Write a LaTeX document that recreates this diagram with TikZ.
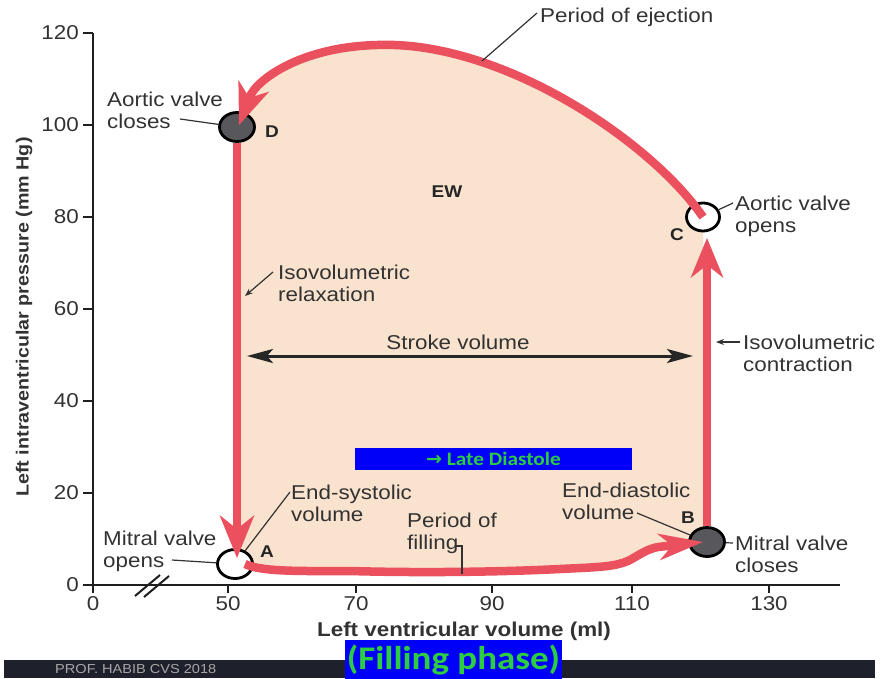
\documentclass[tikz,border=0pt]{standalone}
\usepackage{fontspec}
\setmainfont[FakeStretch=1.12]{Liberation Sans}
\newfontfamily\carfont[FakeStretch=1.12]{Carlito}
\newfontfamily\arrfont{DejaVu Sans}
\usetikzlibrary{arrows.meta}
\usetikzlibrary{shapes.geometric}
\definecolor{lred}{RGB}{234,80,94}
\definecolor{lpeach}{RGB}{249,226,206}
\definecolor{lgray}{RGB}{88,88,92}
\definecolor{ltext}{RGB}{50,50,50}
\definecolor{lblue}{RGB}{0,0,250}
\definecolor{lgreen}{RGB}{45,205,65}
\definecolor{lbar}{RGB}{30,32,44}

\tikzset{
redloop/.style={draw=lred, line width=8.5pt},
valve/.style={ellipse, draw=black, line width=2.8pt, minimum width=35pt, minimum height=29pt, inner sep=0pt},
lbl/.style={font=\fontsize{20}{21.5}\selectfont, text=ltext, align=left, inner sep=0pt, anchor=north west},
letter/.style={font=\fontsize{17}{17}\selectfont\bfseries, text=black!85, inner sep=0pt},
leader/.style={draw=ltext, line width=1.2pt},
axisline/.style={draw=black!88, line width=2.5pt},
ticklbl/.style={font=\fontsize{20}{20}\selectfont, text=ltext, inner sep=0pt},
}

\begin{document}
\begin{tikzpicture}[x=1pt, y=-1pt]
\useasboundingbox (0,0) rectangle (888,678);
\clip (0,0) rectangle (888,678);

%work area:
\fill[lpeach] (703,217) .. controls (650,140) and (500,40) .. (377,45) .. controls (300,47) and (256,80) .. (239,125) -- (237,563) -- (245,564) .. controls (262,572) and (300,571) .. (350,571) .. controls (420,573) and (500,572) .. (560,569) .. controls (600,567) and (615,567) .. (630,560) .. controls (642,553) and (648,549) .. (658,547) -- (703,542) -- (707,542) -- cycle;

%axes:
\coordinate (ytop) at (93,33);
\coordinate (orig) at (93,585);
\coordinate (xend) at (840,585);
\draw[axisline] (ytop) -- (orig) -- (xend);
\foreach \v in {0,20,...,120}{
  \coordinate (yt\v) at (93,{585-4.6*\v});
  \draw[axisline, line width=2pt] (yt\v) -- ++(-10,0);
  \node[ticklbl, left=14pt] (yl\v) at (yt\v) {\v};
}
\foreach \v/\px in {0/93,50/228,70/356,90/492,110/632,130/769}{
  \coordinate (xt\v) at (\px,585);
  \draw[axisline, line width=2pt] (xt\v) -- ++(0,8);
  \node[ticklbl, below=11pt] (xl\v) at (xt\v) {\v};
}
%break
\draw[axisline, line width=2pt] (135,596) -- (160,575);
\draw[axisline, line width=2pt] (144,597) -- (169,576);

\node[rotate=90, font=\fontsize{17.6}{17.6}\selectfont\bfseries, text=ltext] (ytitle) at (24,317) {Left intraventricular pressure (mm Hg)};
\node[font=\fontsize{20}{20}\selectfont\bfseries, text=ltext] (xtitle) at (464,631) {Left ventricular volume (ml)};

%valves
\node[valve, fill=lgray] (D) at (237,127) {};
\node[valve, fill=white] (A) at (235,564) {};
\node[valve, fill=lgray] (B) at (707,542) {};
\node[valve, fill=white, minimum width=33pt, minimum height=28pt] (C) at (703,217) {};

%loop:
\coordinate (tipA) at (237,558);
\coordinate (tipB) at (703,542);
\coordinate (tipC) at (707,238);
\coordinate (tipD) at (239,125);
\draw[redloop, -{Stealth[length=43pt, width=35pt, inset=14pt, line width=0pt]}] (D.south) -- (tipA);
\draw[redloop, -{Stealth[length=45pt, width=27pt, inset=14pt, line width=0pt]}] (245,564) .. controls (262,572) and (300,571) .. (350,571) .. controls (420,573) and (500,572) .. (560,569) .. controls (600,567) and (615,567) .. (630,560) .. controls (642,553) and (648,549) .. (658,547) -- (tipB);
\draw[redloop, -{Stealth[length=40pt, width=33pt, inset=13pt, line width=0pt]}] (B.north) -- (tipC);
\draw[redloop, -{Stealth[length=42pt, width=33pt, inset=13pt, line width=0pt]}] (C.center) .. controls (650,140) and (500,40) .. (377,45) .. controls (300,47) and (256,80) .. (tipD);

%stroke volume
\coordinate (svl) at (247,356);
\coordinate (svr) at (693,356);
\draw[draw=black!85, line width=3pt, {Stealth[length=26pt, width=14pt, inset=6pt]}-{Stealth[length=26pt, width=14pt, inset=6pt]}] (svl) -- (svr);
\node[lbl, anchor=north] (stroke) at (458,335) {Stroke volume};

%labels
\node[letter] (Dl) at (272,132) {D};
\node[letter] (Cl) at (677,235) {C};
\node[letter] (Al) at (267,552) {A};
\node[letter] (Bl) at (688,518) {B};
\node[letter] (ew) at (447,192) {EW};

\node[lbl] (ejection) at (540,8) {Period of ejection};
\node[lbl] (avclose) at (107,92) {Aortic valve\\closes};
\node[lbl] (avopen) at (735,196) {Aortic valve\\opens};
\node[lbl] (relax) at (278,265) {Isovolumetric\\relaxation};
\node[lbl] (contr) at (743,335) {Isovolumetric\\contraction};
\node[lbl] (esv) at (291,485) {End-systolic\\volume};
\node[lbl] (mvopen) at (103,531) {Mitral valve\\opens};
\node[lbl] (filling) at (407,513) {Period of\\filling};
\node[lbl] (edv) at (562,483) {End-diastolic\\volume};
\node[lbl] (mvclose) at (735,536) {Mitral valve\\closes};

%leaders
\coordinate (ejs) at (537,13);
\coordinate (eje) at (482,61);
\draw[leader] (ejs) -- (eje);
\coordinate (avc) at (180,119);
\draw[leader] (avc) -- (D);
\coordinate (avo) at (733,203);
\draw[leader] (C) -- (avo);
\coordinate (rxs) at (273,272);
\coordinate (rxe) at (245,296);
\draw[leader, -{Stealth[length=8pt, width=6pt]}] (rxs) -- (rxe);
\coordinate (cts) at (740,342);
\coordinate (cte) at (716,342);
\draw[leader, -{Stealth[length=8pt, width=6pt]}] (cts) -- (cte);
\coordinate (esl) at (290,492);
\draw[leader] (esl) -- (A);
\coordinate (mvo) at (172,560);
\draw[leader] (mvo) -- (A);
\coordinate (fls) at (455,546);
\coordinate (fle) at (462,574);
\draw[leader] (fls) -- (fle |- fls) -- (fle);
\coordinate (eds) at (637,513);
\draw[leader] (eds) -- (B);
\coordinate (mvc) at (733,543);
\draw[leader] (B) -- (mvc);

%boxes
\node[fill=lblue, minimum width=277pt, minimum height=22pt, inner sep=0pt, text=lgreen, font=\carfont\bfseries\fontsize{19}{19}\selectfont] (late) at (493.5,459) {{\arrfont →} Late Diastole};
\fill[lbar] (4,660) rectangle (875,678);
\node[font=\fontsize{13}{13}\selectfont, text=black!35, anchor=north west, inner sep=0pt] (prof) at (55,664) {PROF. HABIB CVS 2018};
\node[anchor=north, fill=lblue, minimum width=217pt, minimum height=40pt, inner sep=0pt, text=lgreen, font=\carfont\bfseries\fontsize{33}{33}\selectfont] (phase) at (453.5,640) {(Filling phase)};

\end{tikzpicture}
\end{document}
